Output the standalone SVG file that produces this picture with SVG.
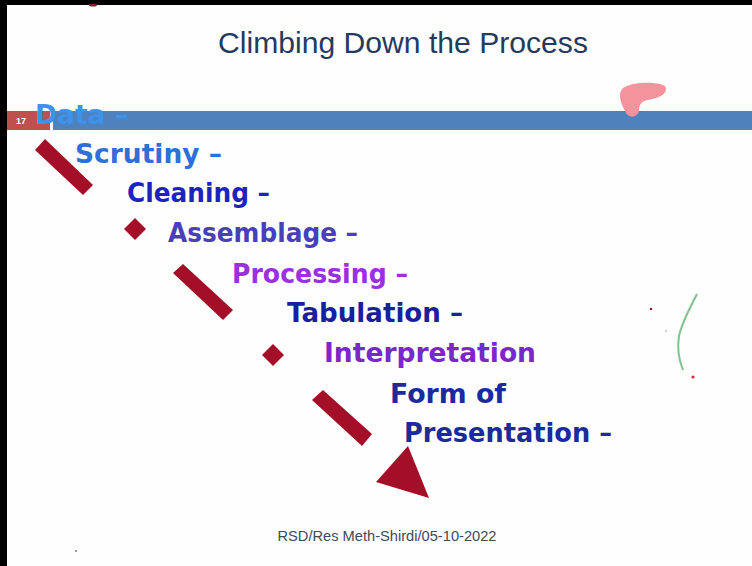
<svg xmlns="http://www.w3.org/2000/svg" width="752" height="566" viewBox="0 0 752 566">
<style>
.item{font-family:"DejaVu Sans","Liberation Sans",sans-serif;font-weight:bold;font-size:27px}
.mark{fill:#a30f27}
</style>
<rect x="0" y="0" width="752" height="566" fill="#000"/>
<rect x="7" y="5" width="745" height="561" fill="#fefefe"/>
<text x="403" y="53" text-anchor="middle" font-family="Liberation Sans, Arial, sans-serif" font-size="30" fill="#243a5e" textLength="370" lengthAdjust="spacingAndGlyphs">Climbing Down the Process</text>
<rect x="7" y="111" width="43" height="19" fill="#c0504d"/>
<text x="16" y="124" font-family="Liberation Sans, Arial, sans-serif" font-size="9" font-weight="bold" fill="#fff">17</text>
<rect x="53" y="111" width="699" height="19" fill="#4f81bd"/>
<path d="M623,88 C632,82 656,81 665,86 C669,93 660,98 648,100 C641,101 639,105 639,111 C637,118 628,119 625,111 C621,103 617,94 623,88 Z" fill="#f4939c"/>
<g id="n-data"><text class="item" x="35" y="124" fill="#3d92ea" textLength="93" lengthAdjust="spacingAndGlyphs">Data –</text></g>
<g id="n-scrutiny"><text class="item" x="75" y="163" fill="#2e6fd8" textLength="147" lengthAdjust="spacingAndGlyphs">Scrutiny –</text></g>
<g id="n-cleaning"><text class="item" x="127" y="202" fill="#1b24c2" textLength="143" lengthAdjust="spacingAndGlyphs">Cleaning –</text></g>
<g id="n-assemblage"><text class="item" x="168" y="242" fill="#4a3fba" textLength="190" lengthAdjust="spacingAndGlyphs">Assemblage –</text></g>
<g id="n-processing"><text class="item" x="232" y="283" fill="#9b2fe2" textLength="176" lengthAdjust="spacingAndGlyphs">Processing –</text></g>
<g id="n-tabulation"><text class="item" x="287" y="322" fill="#1a1f9c" textLength="176" lengthAdjust="spacingAndGlyphs">Tabulation –</text></g>
<g id="n-interpretation"><text class="item" x="324" y="362" fill="#7b27ca" textLength="212" lengthAdjust="spacingAndGlyphs">Interpretation</text></g>
<g id="n-form"><text class="item" x="390" y="403" fill="#1b2a9c" textLength="116" lengthAdjust="spacingAndGlyphs">Form of</text></g>
<g id="n-presentation"><text class="item" x="404" y="442" fill="#1b2a9c" textLength="208" lengthAdjust="spacingAndGlyphs">Presentation –</text></g>
<g id="connectors">
<polygon class="mark" points="35,150 45,139 93,185 83,195"/>
<polygon class="mark" points="173,273 183,264 233,310 223,320"/>
<polygon class="mark" points="312,400 323,390 372,434 362,446"/>
<polygon class="mark" points="408,446 376,482 429,498"/>
<polygon class="mark" points="135,218 146,229 135,240 124,229"/>
<polygon class="mark" points="273,344 284,355 273,366 262,355"/>
</g>
<path d="M697,294 C690,308 682,322 679,336 C677,348 679,360 683,370" fill="none" stroke="#80c28e" stroke-width="2"/>
<circle cx="651" cy="309" r="1.3" fill="#9a2040"/>
<circle cx="666" cy="331" r="1.2" fill="#f0c0c8"/>
<circle cx="693" cy="377" r="1.6" fill="#d03040"/>
<circle cx="76" cy="551" r="1" fill="#777"/>
<ellipse cx="93" cy="5" rx="4" ry="1.5" fill="#8a1a30"/>
<text x="387" y="541" text-anchor="middle" font-family="Liberation Sans, Arial, sans-serif" font-size="14.5" fill="#3c4a5e" textLength="219" lengthAdjust="spacingAndGlyphs">RSD/Res Meth-Shirdi/05-10-2022</text>
</svg>
